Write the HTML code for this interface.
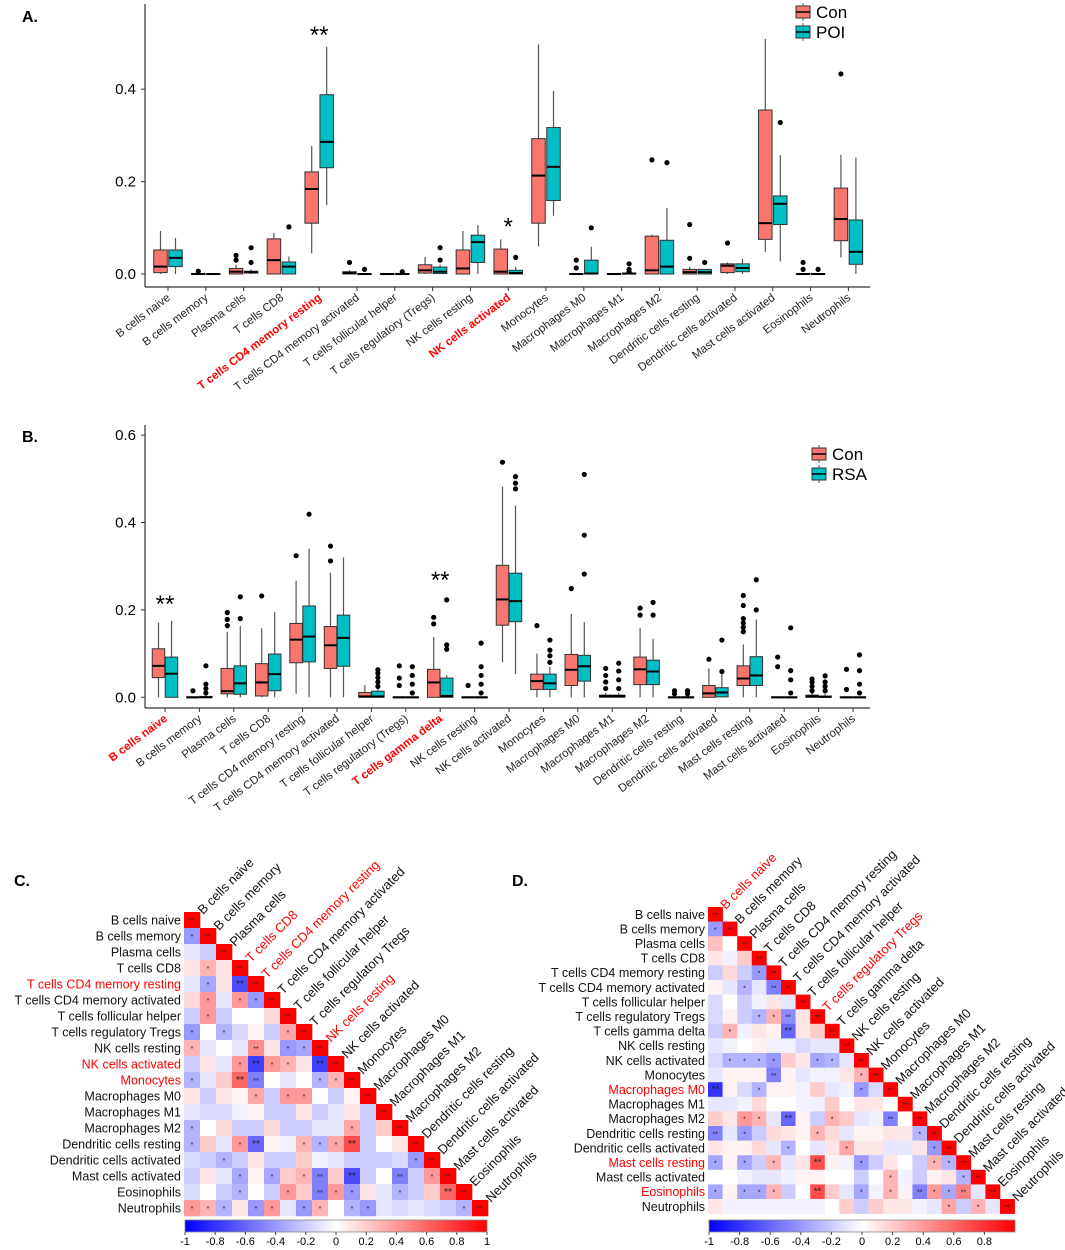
<!DOCTYPE html>
<html><head><meta charset="utf-8">
<style>
html,body{margin:0;padding:0;background:#fff;}
svg{display:block;font-family:"Liberation Sans",Arial,sans-serif;}
</style></head>
<body>
<svg id="fig" width="1065" height="1250" viewBox="0 0 1065 1250" xmlns="http://www.w3.org/2000/svg">
<text x="22" y="22" font-size="16" font-weight="bold">A.</text>
<text x="22" y="442" font-size="16" font-weight="bold">B.</text>
<text x="14" y="886" font-size="16" font-weight="bold">C.</text>
<text x="512" y="886" font-size="16" font-weight="bold">D.</text>
<g id="pa"></g><g id="pb"></g><g id="pc"></g><g id="pd"></g>
</svg>
<script>
// ---------- Panel A data ----------
const catsA=["B cells naive","B cells memory","Plasma cells","T cells CD8","T cells CD4 memory resting","T cells CD4 memory activated","T cells follicular helper","T cells regulatory (Tregs)","NK cells resting","NK cells activated","Monocytes","Macrophages M0","Macrophages M1","Macrophages M2","Dendritic cells resting","Dendritic cells activated","Mast cells activated","Eosinophils","Neutrophils"];
const redA=[4,9];
const aConQ1=[0.003,0,0,0,0.11,0,0,0.002,0,0,0.11,0,0,0,0,0.003,0.075,0,0.072];
const aConMed=[0.016,0,0.005,0.03,0.184,0.002,0,0.008,0.012,0.005,0.213,0,0,0.008,0.004,0.018,0.11,0,0.119];
const aConQ3=[0.052,0.001,0.012,0.076,0.221,0.005,0.001,0.02,0.052,0.054,0.293,0.001,0.001,0.082,0.01,0.022,0.355,0.001,0.186];
const aConLo=[0,0,0,0,0.045,0,0,0,0,0,0.06,0,0,0,0,0,0.048,0,0.036];
const aConHi=[0.093,0.001,0.02,0.089,0.277,0.008,0.001,0.037,0.093,0.075,0.497,0.001,0.001,0.085,0.016,0.025,0.509,0.001,0.258];
const aConOut=[[],[0.006],[0.03,0.04],[],[],[0.025],[],[],[],[],[],[0.013,0.03],[],[0.247],[0.034,0.107],[0.067],[],[0.01,0.025],[0.433]];
const aTrtQ1=[0.016,0,0.002,0,0.23,0,0,0.001,0.025,0,0.159,0,0,0,0,0.005,0.107,0,0.021];
const aTrtMed=[0.035,0,0.004,0.016,0.286,0,0,0.005,0.069,0.002,0.232,0.001,0.001,0.016,0.004,0.013,0.152,0,0.048];
const aTrtQ3=[0.052,0.001,0.006,0.026,0.388,0.001,0.001,0.015,0.084,0.008,0.317,0.03,0.002,0.073,0.01,0.022,0.169,0.001,0.117];
const aTrtLo=[0,0,0,0,0.149,0,0,0,0,0,0.126,0,0,0,0,0,0.027,0,0];
const aTrtHi=[0.078,0.001,0.01,0.038,0.492,0.001,0.001,0.02,0.106,0.015,0.396,0.059,0.003,0.143,0.01,0.033,0.257,0.001,0.252];
const aTrtOut=[[],[],[0.025,0.057],[0.102],[],[0.01],[0.005],[0.03,0.057],[],[0.036],[],[0.1],[0.005,0.01,0.022],[0.241],[0.025],[],[0.328],[0.01],[]];
const aTicks=[0,0.2,0.4];
const aTickLabels=["0.0","0.2","0.4"];
// ---------- Panel B data ----------
const catsB=["B cells naive","B cells memory","Plasma cells","T cells CD8","T cells CD4 memory resting","T cells CD4 memory activated","T cells follicular helper","T cells regulatory (Tregs)","T cells gamma delta","NK cells resting","NK cells activated","Monocytes","Macrophages M0","Macrophages M1","Macrophages M2","Dendritic cells resting","Dendritic cells activated","Mast cells resting","Mast cells activated","Eosinophils","Neutrophils"];
const redB=[0,8];
const bConQ1=[0.045,0,0.008,0.003,0.079,0.066,0,0,0,0,0.165,0.018,0.027,0,0.029,0,0,0.027,0,0,0];
const bConMed=[0.072,0,0.014,0.034,0.132,0.119,0.002,0,0.034,0,0.224,0.037,0.063,0.003,0.064,0,0.009,0.043,0,0.002,0];
const bConQ3=[0.111,0.001,0.066,0.077,0.169,0.162,0.011,0.001,0.064,0.001,0.302,0.053,0.098,0.005,0.092,0.001,0.027,0.072,0.001,0.005,0.001];
const bConLo=[0,0,0,0,0.008,0,0,0,0,0,0.08,0,0,0,0,0,0,0,0,0,0];
const bConHi=[0.171,0.002,0.15,0.158,0.267,0.285,0.028,0.001,0.138,0.001,0.482,0.1,0.191,0.01,0.158,0.001,0.066,0.121,0.001,0.01,0.001];
const bConOut=[[],[0.015],[0.164,0.178,0.194],[0.232],[0.324],[0.312,0.346],[],[0.027,0.044,0.072],[0.168,0.183],[0.027],[0.538],[0.164],[0.249],[0.02,0.035,0.05,0.066],[0.188,0.204],[0.008,0.015],[0.087],[0.15,0.16,0.17,0.18,0.21,0.233],[0.07,0.092],[0.015,0.025,0.035,0.042],[0.018,0.064]];
const bTrtQ1=[0,0,0.007,0.015,0.081,0.071,0,0,0,0,0.173,0.018,0.037,0,0.029,0,0.001,0.027,0,0,0];
const bTrtMed=[0.054,0,0.032,0.053,0.139,0.136,0.002,0,0.003,0,0.22,0.032,0.071,0.003,0.059,0,0.011,0.05,0,0.001,0];
const bTrtQ3=[0.092,0.002,0.072,0.099,0.209,0.188,0.014,0.001,0.044,0.001,0.284,0.053,0.096,0.005,0.085,0.001,0.022,0.093,0.001,0.003,0.001];
const bTrtLo=[0,0,0,0,0,0,0,0,0,0,0.053,0,0,0,0,0,0,0,0,0,0];
const bTrtHi=[0.175,0.005,0.163,0.195,0.34,0.32,0.02,0.001,0.05,0.001,0.439,0.07,0.172,0.01,0.134,0.001,0.055,0.178,0.001,0.008,0.001];
const bTrtOut=[[],[0.01,0.02,0.03,0.072],[0.18,0.23],[],[0.419],[],[0.025,0.035,0.045,0.055,0.063],[0.01,0.03,0.05,0.07],[0.11,0.12,0.223],[0.01,0.03,0.05,0.07,0.124],[0.477,0.49,0.505],[0.08,0.095,0.108,0.131],[0.282,0.371,0.51],[0.02,0.04,0.06,0.078],[0.188,0.217],[0.008,0.015],[0.059,0.131],[0.2,0.269],[0.01,0.04,0.061,0.159],[0.015,0.025,0.035,0.049],[0.01,0.03,0.061,0.097]];
const bTicks=[0,0.2,0.4,0.6];
const bTickLabels=["0.0","0.2","0.4","0.6"];
// ---------- Panel C data ----------
const rowsC=["B cells naive","B cells memory","Plasma cells","T cells CD8","T cells CD4 memory resting","T cells CD4 memory activated","T cells follicular helper","T cells regulatory Tregs","NK cells resting","NK cells activated","Monocytes","Macrophages M0","Macrophages M1","Macrophages M2","Dendritic cells resting","Dendritic cells activated","Mast cells activated","Eosinophils","Neutrophils"];
const redRowsC=[4,9,10];
const redColsC=[3,4,8];
const corrC=[[],[-0.4],[-0.1,-0.2],[0.1,0.3,0.1],[-0.1,-0.35,0.1,-0.7],[0.15,0.4,-0.1,0.4,-0.4],[-0.2,0.4,-0.2,0,0,0.15],[-0.4,0,-0.3,-0.15,0.05,-0.2,0.35],[0.3,-0.1,0,-0.1,0.45,0.1,-0.4,-0.35],[-0.2,0.1,-0.1,0.4,-0.75,0.4,0.3,0.1,-0.75],[-0.3,-0.1,0.2,0.6,-0.5,0,-0.1,0,-0.3,0.3],[0.1,-0.2,0.1,0.05,0.35,-0.2,0.4,0.4,0,-0.2,0.05],[-0.1,-0.15,-0.15,-0.05,0.05,-0.2,-0.2,0.1,-0.2,-0.1,0.1,-0.2],[-0.3,0,0.15,-0.2,-0.2,0.15,-0.2,-0.2,-0.1,-0.1,0.35,-0.2,0.2],[-0.3,0.2,-0.1,0.4,-0.6,0.05,-0.05,0.3,-0.3,0.35,0.7,-0.2,0,0.1],[-0.15,-0.2,-0.3,-0.2,0.1,-0.2,-0.2,0.2,-0.05,-0.1,-0.2,-0.2,-0.2,-0.15,-0.4],[-0.2,0.1,-0.1,-0.35,0.05,-0.35,0.2,0.3,-0.5,0.2,-0.7,-0.2,0,-0.5,-0.2,0.4],[-0.15,0,-0.2,-0.3,0,-0.2,0.4,0.2,-0.5,0.4,-0.4,0.1,-0.1,-0.3,-0.2,0.2,0.6],[0.4,0.3,-0.3,0.1,-0.4,0.4,-0.1,-0.4,0.3,0,-0.3,-0.4,-0.1,-0.15,-0.1,-0.15,-0.2,-0.3]];
const barTicksC=[-1,-0.8,-0.6,-0.4,-0.2,0,0.2,0.4,0.6,0.8,1];
// ---------- Panel D data ----------
const rowsD=["B cells naive","B cells memory","Plasma cells","T cells CD8","T cells CD4 memory resting","T cells CD4 memory activated","T cells follicular helper","T cells regulatory Tregs","T cells gamma delta","NK cells resting","NK cells activated","Monocytes","Macrophages M0","Macrophages M1","Macrophages M2","Dendritic cells resting","Dendritic cells activated","Mast cells resting","Mast cells activated","Eosinophils","Neutrophils"];
const redRowsD=[12,17,19];
const redColsD=[0,7];
const corrD=[[],[-0.4],[0.25,0],[0.1,-0.05,0.2],[-0.2,0.15,-0.2,-0.4],[0.05,-0.1,-0.3,-0.1,-0.5],[-0.15,0,-0.2,-0.05,0.1,-0.1],[-0.15,0.05,-0.2,-0.3,0.3,-0.45,0.1],[-0.2,0.3,-0.05,0.1,0.05,-0.6,0.1,0.2],[-0.1,-0.05,0,0.05,-0.05,-0.05,-0.15,-0.1,-0.1],[-0.15,-0.3,-0.3,-0.3,-0.4,0.2,0.1,-0.35,-0.3,-0.1],[-0.1,0.05,0.05,0.05,-0.5,0.05,-0.1,-0.05,-0.05,0.1,0.3],[-0.8,0.05,-0.15,-0.3,0.05,0.05,-0.05,0.2,-0.1,-0.05,-0.4,-0.15],[-0.1,-0.1,-0.05,0.15,0,0,-0.05,-0.05,0.2,0,0.1,0.1,0],[0.2,0.1,0.4,0.3,-0.1,-0.6,0.05,-0.2,0.3,0.2,-0.1,-0.05,-0.5,0],[-0.5,-0.1,-0.4,-0.2,0.15,0.1,0.05,0.3,0.15,-0.1,0.05,0.05,0.1,0.1,-0.3],[0.1,0.05,0.05,0.15,-0.1,-0.3,0,-0.1,0.1,0.35,0.1,0.1,-0.1,-0.1,0.1,-0.4],[-0.35,0.05,-0.35,-0.2,0.3,-0.1,0.1,0.7,0.05,-0.05,-0.4,-0.2,0.1,0,-0.2,0.3,-0.3],[0,0,-0.05,-0.1,-0.1,-0.05,0.05,0.05,0,0,-0.2,0,0.3,-0.05,-0.2,0.05,0.1,-0.3],[-0.35,0.05,-0.35,-0.35,0.3,-0.2,0,0.7,0.2,-0.1,-0.35,-0.05,0.3,0.05,-0.5,0.4,-0.35,0.5,-0.1],[0.1,-0.05,-0.05,-0.05,-0.05,-0.05,-0.05,-0.05,0,0.2,-0.2,0.2,0.1,0.1,-0.05,-0.1,0.35,-0.2,0.3,-0.1]];
const barTicksD=[-1,-0.8,-0.6,-0.4,-0.2,0,0.2,0.4,0.6,0.8];

const NS="http://www.w3.org/2000/svg";
function mk(tag,attrs,parent,txt){const e=document.createElementNS(NS,tag);for(const k in attrs)e.setAttribute(k,attrs[k]);if(txt!==undefined)e.textContent=txt;parent.appendChild(e);return e;}
const CON="#f8766d", TRT="#00bfc4";

function boxPanel(g,cfg){
  const y=v=>cfg.y0-v*cfg.k;
  const x=i=>cfg.x0+i*cfg.dx;
  let l=mk('line',{x1:145,y1:cfg.top,x2:145,y2:cfg.axisY,stroke:'#333','stroke-width':1.2},g);
  
  l=mk('line',{x1:145,y1:cfg.axisY,x2:870,y2:cfg.axisY,stroke:'#333','stroke-width':1.2},g);
  
  cfg.ticks.forEach((t,i)=>{
    mk('line',{x1:141,x2:145,y1:y(t),y2:y(t),stroke:'#333'},g);
    const tt=mk('text',{x:136,y:y(t)+5,'text-anchor':'end','font-size':15},g,cfg.tickLabels[i]);
    
  });
  cfg.cats.forEach((c,i)=>{
    const cx=x(i);
    mk('line',{x1:cx,x2:cx,y1:cfg.axisY,y2:cfg.axisY+4,stroke:'#333'},g);
    const red=cfg.red.includes(i);
    const lx=cx+3,ly=cfg.axisY+12;
    const t=mk('text',{x:lx,y:ly,'text-anchor':'end','font-size':11.5,fill:red?'#ff0000':'#222','font-weight':red?'bold':'normal',transform:`rotate(-37 ${lx} ${ly})`},g,c);
    
    [[cfg.c,CON,-1,'con'],[cfg.t,TRT,1,'treat']].forEach(([s,col,sg,nm])=>{
      const bx=cx+sg*cfg.off;
      const w=cfg.bw;
      const wl=mk('line',{x1:bx,x2:bx,y1:y(s.hi[i]),y2:y(s.lo[i]),stroke:'#555','stroke-width':1.2},g);
      
      const h=Math.max(1,y(s.q1[i])-y(s.q3[i]));
      const r=mk('rect',{x:bx-w/2,y:y(s.q3[i]),width:w,height:h,fill:col,stroke:'#333','stroke-width':1},g);
      
      const m=mk('line',{x1:bx-w/2,x2:bx+w/2,y1:y(s.med[i]),y2:y(s.med[i]),stroke:'#000','stroke-width':2},g);
      
      s.out[i].forEach(v=>{const p=mk('circle',{cx:bx,cy:y(v),r:2.6,fill:'#000'},g);
        });
    });
  });
  cfg.stars.forEach(([i,v,s])=>{const t=mk('text',{x:x(i),y:y(v),'text-anchor':'middle','font-size':24},g,s);
    });
  const L=cfg.leg;
  [[CON,'Con'],[TRT,cfg.tname]].forEach(([col,name],k)=>{
    const yy=L.y+k*20;
    mk('line',{x1:L.x+7,x2:L.x+7,y1:yy-9,y2:yy+9,stroke:'#555'},g);
    mk('rect',{x:L.x,y:yy-6,width:14,height:12,fill:col,stroke:'#333'},g);
    mk('line',{x1:L.x,x2:L.x+14,y1:yy,y2:yy,stroke:'#000','stroke-width':1.5},g);
    const t=mk('text',{x:L.x+20,y:yy+6,'font-size':17},g,name);
    
  });
}
boxPanel(document.getElementById('pa'),{y0:274,k:462,x0:168,dx:37.8,off:7.5,bw:13.5,top:4,axisY:287,
  ticks:aTicks,tickLabels:aTickLabels,cats:catsA,red:redA,
  c:{q1:aConQ1,med:aConMed,q3:aConQ3,lo:aConLo,hi:aConHi,out:aConOut},
  t:{q1:aTrtQ1,med:aTrtMed,q3:aTrtQ3,lo:aTrtLo,hi:aTrtHi,out:aTrtOut},
  stars:[[4,0.5,'**'],[9,0.085,'*']],leg:{x:796,y:12},tname:'POI'});
boxPanel(document.getElementById('pb'),{y0:697.3,k:437,x0:165,dx:34.4,off:6.5,bw:12.5,top:425,axisY:708,
  ticks:bTicks,tickLabels:bTickLabels,cats:catsB,red:redB,
  c:{q1:bConQ1,med:bConMed,q3:bConQ3,lo:bConLo,hi:bConHi,out:bConOut},
  t:{q1:bTrtQ1,med:bTrtMed,q3:bTrtQ3,lo:bTrtLo,hi:bTrtHi,out:bTrtOut},
  stars:[[0,0.195,'**'],[8,0.25,'**']],leg:{x:812,y:454},tname:'RSA'});

function col(v){v=Math.max(-1,Math.min(1,v));
  if(v<0){const a=Math.round(255*(1+v));return `rgb(${a},${a},255)`;}
  const a=Math.round(255*(1-v));return `rgb(255,${a},${a})`;}
function heat(g,cfg){
  const s=cfg.s;
  cfg.rows.forEach((name,i)=>{
    const red=cfg.redRows.includes(i);
    const t=mk('text',{x:cfg.x0-3,y:cfg.y0+i*s+s/2+4.5,'text-anchor':'end','font-size':12.5,fill:red?'#ff0000':'#111'},g,name);
    
    const rc=cfg.redCols.includes(i);
    const lx=cfg.x0+(i+1)*s+3,ly=cfg.y0+i*s+3;
    const c=mk('text',{x:lx,y:ly,'font-size':13,fill:rc?'#ff0000':'#111',transform:`rotate(-45 ${lx} ${ly})`},g,name);
    
    const vals=cfg.corr[i].concat([1]);
    vals.forEach((v,j)=>{
      const r=mk('rect',{x:cfg.x0+j*s,y:cfg.y0+i*s,width:s+0.3,height:s+0.3,fill:col(v)},g);
      
      const a=Math.abs(v);
      if(a>=0.3){mk('text',{x:cfg.x0+j*s+s/2,y:cfg.y0+i*s+s/2+3,'text-anchor':'middle','font-size':a>=0.6&&v<1?10:7,fill:'#222'},g,a>=0.45?'**':'*');}
    });
  });
  const bx=cfg.barX0,bw=cfg.barW,by=cfg.barY;
  const id='grad'+cfg.id;
  const defs=mk('defs',{},g);
  const lg=mk('linearGradient',{id:id,x1:0,x2:1,y1:0,y2:0},defs);
  [[0,'#0000ff'],[0.5,'#ffffff'],[1,'#ff0000']].forEach(([o,c])=>mk('stop',{offset:o,'stop-color':c},lg));
  const bar=mk('rect',{x:bx,y:by,width:bw,height:12,fill:`url(#${id})`,stroke:'#888','stroke-width':0.8},g);
  
  cfg.ticks.forEach(t=>{const xx=bx+(t+1)/2*bw;
    mk('line',{x1:xx,x2:xx,y1:by+12,y2:by+15,stroke:'#444'},g);
    const tt=mk('text',{x:xx,y:by+25,'text-anchor':'middle','font-size':11},g,String(t));
    });
}
heat(document.getElementById('pc'),{id:'c',rows:rowsC,redRows:redRowsC,redCols:redColsC,corr:corrC,x0:184,y0:912,s:16,barX0:185,barW:302,barY:1220,ticks:barTicksC});
heat(document.getElementById('pd'),{id:'d',rows:rowsD,redRows:redRowsD,redCols:redColsD,corr:corrD,x0:708,y0:907,s:14.6,barX0:709,barW:306,barY:1220,ticks:barTicksD});
</script>
</body></html>
